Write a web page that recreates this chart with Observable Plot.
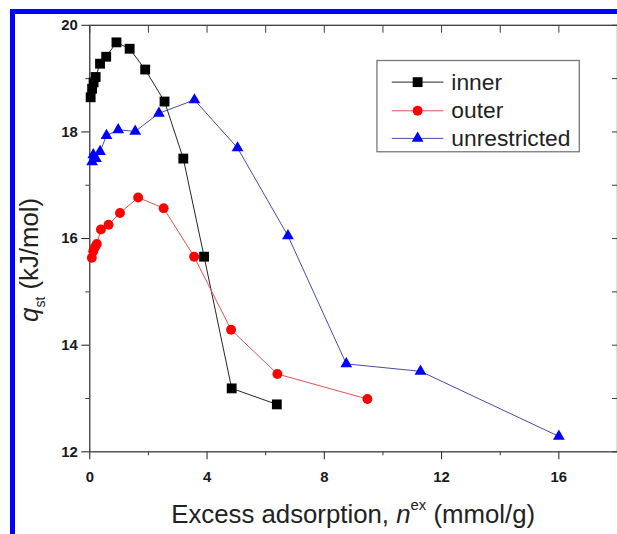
<!DOCTYPE html>
<html><head><meta charset="utf-8">
<script src="https://cdn.jsdelivr.net/npm/d3@7"></script>
<script src="https://cdn.jsdelivr.net/npm/@observablehq/plot@0.6"></script>
<style>
html,body{margin:0;padding:0;background:#fff;overflow:hidden;}
#wrap{position:relative;width:617px;height:534px;overflow:hidden;background:#fff;}
#wrap svg{position:absolute;left:0;top:0;}
#border{position:absolute;left:10px;top:9px;width:700px;height:600px;border-left:5px solid #0000ff;border-top:5px solid #0000ff;box-sizing:border-box;pointer-events:none;}
</style></head><body><div id="wrap"></div>
<script>
// ---- data ----
const innerX = [0.03, 0.08, 0.13, 0.20, 0.35, 0.56, 0.91, 1.36, 1.89, 2.55, 3.19, 3.90, 4.84, 6.38];
const innerY = [18.65, 18.81, 18.93, 19.03, 19.28, 19.41, 19.68, 19.56, 19.17, 18.57, 17.50, 15.66, 13.19, 12.89];
const outerX = [0.07, 0.12, 0.18, 0.24, 0.38, 0.64, 1.03, 1.65, 2.52, 3.56, 4.82, 6.40, 9.47];
const outerY = [15.64, 15.76, 15.84, 15.90, 16.17, 16.26, 16.48, 16.77, 16.57, 15.66, 14.29, 13.46, 12.99];
const unresX = [0.08, 0.12, 0.21, 0.35, 0.57, 0.97, 1.55, 2.36, 3.57, 5.04, 6.76, 8.75, 11.28, 16.0];
const unresY = [17.44, 17.57, 17.50, 17.63, 17.93, 18.04, 18.01, 18.35, 18.60, 17.70, 16.05, 13.65, 13.51, 12.29];

const seriesNames = ["inner", "outer", "unrestricted"];
const markerColors = ["#000000", "#ff0000", "#0000ff"];
const lineColors = ["#222222", "#e05050", "#4848a8"];
const symbols = ["square", "circle", "triangle"];
const radii = [5.6, 5, 4.4];

const xMajor = [0, 4, 8, 12, 16];
const xMinor = [2, 6, 10, 14];
const yMajor = [12, 14, 16, 18, 20];
const yMinor = [13, 15, 17, 19];

const toRows = (xs, ys) => xs.map((x, i) => ({x, y: ys[i]}));
const rows = [toRows(innerX, innerY), toRows(outerX, outerY), toRows(unresX, unresY)];

const seriesMarks = rows.flatMap((d, i) => [
  Plot.line(d, {x: "x", y: "y", stroke: lineColors[i], strokeWidth: 1}),
  Plot.dot(d, {x: "x", y: "y", symbol: symbols[i], r: radii[i], fill: markerColors[i], stroke: "none"})
]);

const axisColor = "#3a3a3a";
const svg = Plot.plot({
  width: 622, height: 534,
  marginLeft: 90, marginRight: 0, marginTop: 25, marginBottom: 79,
  x: {domain: [0, 18]},
  y: {domain: [12, 20]},
  style: {fontFamily: "'Liberation Sans', Arial, sans-serif", background: "transparent", color: axisColor},
  marks: [
    Plot.axisX({ticks: xMajor, tickSize: 8, tickPadding: 12, fontSize: 15, fontWeight: "bold", label: null, color: "#1a1a1a"}),
    Plot.axisX({ticks: xMinor, tickSize: 4, tickFormat: () => "", label: null}),
    Plot.axisX({anchor: "top", ticks: xMajor.concat(xMinor), tickSize: -7, tickFormat: () => "", label: null}),
    Plot.axisY({ticks: yMajor, tickSize: 8, tickPadding: 4, fontSize: 15, fontWeight: "bold", label: null, color: "#1a1a1a"}),
    Plot.axisY({ticks: yMinor, tickSize: 4, tickFormat: () => "", label: null}),
    Plot.axisY({anchor: "right", ticks: yMajor.concat(yMinor), tickSize: -6, tickFormat: () => "", label: null}),
    Plot.frame({stroke: axisColor, strokeWidth: 1.3}),
    ...seriesMarks
  ]
});
document.getElementById("wrap").appendChild(svg);
const b = document.createElement("div"); b.id = "border";
document.getElementById("wrap").appendChild(b);

const s = d3.select(svg);
const ff = "'Liberation Sans', Arial, sans-serif";
// y label
const yl = s.append("text").attr("transform", "translate(38,262) rotate(-90)")
  .attr("text-anchor", "middle").attr("font-size", 26).attr("font-family", ff).attr("fill", "#222");
yl.append("tspan").attr("font-style", "italic").text("q");
yl.append("tspan").attr("font-size", 14).attr("dy", 7).text("st");
yl.append("tspan").attr("dy", -7).text(" (kJ/mol)");
// x label
const xl = s.append("text").attr("x", 356).attr("y", 527)
  .attr("text-anchor", "middle").attr("font-size", 26).attr("font-family", ff).attr("fill", "#222");
xl.append("tspan").text("Excess adsorption, ");
xl.append("tspan").attr("font-style", "italic").text("n");
xl.append("tspan").attr("font-size", 15).attr("dy", -13).text("ex");
xl.append("tspan").attr("dy", 13).text(" (mmol/g)");

// legend
const lg = s.append("g").attr("text-anchor", "start");
lg.append("rect").attr("x", 380).attr("y", 61).attr("width", 204).attr("height", 92)
  .attr("fill", "#fff").attr("stroke", "#777").attr("stroke-width", 1.3);
const symMap = {square: d3.symbolSquare, circle: d3.symbolCircle, triangle: d3.symbolTriangle};
const rowY = [82.8, 111.7, 139.5];
seriesNames.forEach((name, i) => {
  const y = rowY[i];
  lg.append("line").attr("x1", 395).attr("x2", 447).attr("y1", y).attr("y2", y)
    .attr("stroke", lineColors[i]).attr("stroke-width", 1);
  lg.append("path").attr("transform", `translate(421,${y})`)
    .attr("d", d3.symbol(symMap[symbols[i]], radii[i] * radii[i] * Math.PI)())
    .attr("fill", markerColors[i]);
  lg.append("text").attr("x", 455).attr("y", y + 7.5).attr("text-anchor", "start").attr("font-size", 23)
    .attr("font-family", ff).attr("fill", "#222").text(name);
});
</script>
</body></html>
